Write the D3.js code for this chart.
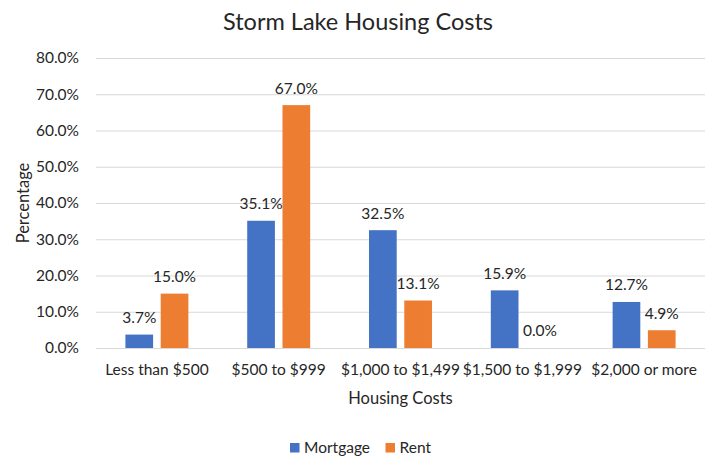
<!DOCTYPE html>
<html>
<head>
<meta charset="utf-8">
<script src="https://cdn.jsdelivr.net/npm/d3@7"></script>
<style>
  body { margin: 0; background: #fff; }
  text { font-family: Lato, "Open Sans", sans-serif; fill: #262626; }
</style>
</head>
<body>
<svg width="716" height="458"></svg>
<script>
var categories = ["Less than $500", "$500 to $999", "$1,000 to $1,499", "$1,500 to $1,999", "$2,000 or more"];
var seriesNames = ["Mortgage", "Rent"];
var mortgage = [3.7, 35.1, 32.5, 15.9, 12.7];
var rent = [15.0, 67.0, 13.1, 0.0, 4.9];
var yTicks = [0, 10, 20, 30, 40, 50, 60, 70, 80];
var colors = ["#4472C4", "#ED7D31"];

var svg = d3.select("svg"),
    width = +svg.attr("width"),
    height = +svg.attr("height");

var plotLeft = 96, plotRight = 705, plotTop = 58, plotBottom = 348;

var x = d3.scaleBand()
    .domain(categories)
    .range([plotLeft, plotRight])
    .paddingInner(0.483)
    .paddingOuter(0.2415);

var xs = d3.scaleBand()
    .domain(seriesNames)
    .range([0, x.bandwidth()])
    .paddingInner(0.215);

var y = d3.scaleLinear()
    .domain([0, 80])
    .range([plotBottom, plotTop]);

var color = d3.scaleOrdinal().domain(seriesNames).range(colors);

// gridlines + y labels
var yAxis = svg.append("g")
    .attr("transform", "translate(" + plotLeft + ",0)")
    .call(d3.axisLeft(y).tickValues(yTicks).tickSize(-(plotRight - plotLeft)).tickPadding(17)
      .tickFormat(function(d) { return d.toFixed(1) + "%"; }));
yAxis.select(".domain").remove();
yAxis.selectAll("line").attr("stroke", "#d9d9d9").attr("stroke-width", 1);
yAxis.selectAll("text").style("font-size", "15.5px").attr("fill", "#262626");

// x labels
var xAxis = svg.append("g")
    .attr("transform", "translate(0," + plotBottom + ")")
    .call(d3.axisBottom(x).tickSize(0).tickPadding(16));
xAxis.select(".domain").remove();
xAxis.selectAll("text").style("font-size", "15.5px").attr("fill", "#262626");

var rows = categories.map(function(c, i) {
  return { cat: c, values: [{ s: "Mortgage", v: mortgage[i] }, { s: "Rent", v: rent[i] }] };
});

var groups = svg.append("g").selectAll("g")
    .data(rows)
    .enter().append("g")
    .attr("transform", function(d) { return "translate(" + x(d.cat) + ",0)"; });

groups.selectAll("rect")
    .data(function(d) { return d.values; })
    .enter().append("rect")
    .attr("x", function(d) { return xs(d.s); })
    .attr("y", function(d) { return y(d.v); })
    .attr("width", xs.bandwidth())
    .attr("height", function(d) { return y(0) - y(d.v); })
    .attr("fill", function(d) { return color(d.s); });

groups.selectAll("text.val")
    .data(function(d) { return d.values; })
    .enter().append("text")
    .attr("class", "val")
    .attr("x", function(d) { return xs(d.s) + xs.bandwidth() / 2; })
    .attr("y", function(d) { return y(d.v) - 17; })
    .attr("dy", "0.35em")
    .attr("text-anchor", "middle")
    .style("font-size", "15.5px")
    .text(function(d) { return d.v.toFixed(1) + "%"; });

// titles
svg.append("text")
    .attr("x", 358).attr("y", 30)
    .attr("text-anchor", "middle")
    .style("font-size", "23.5px")
    .text("Storm Lake Housing Costs");

svg.append("text")
    .attr("x", (plotLeft + plotRight) / 2).attr("y", 398)
    .attr("dy", "0.35em")
    .attr("text-anchor", "middle")
    .style("font-size", "16.5px")
    .text("Housing Costs");

svg.append("text")
    .attr("transform", "translate(23," + (plotTop + plotBottom) / 2 + ") rotate(-90)")
    .attr("dy", "0.35em")
    .attr("text-anchor", "middle")
    .style("font-size", "16.5px")
    .text("Percentage");

// legend
var legend = svg.append("g").selectAll("g")
    .data(seriesNames)
    .enter().append("g")
    .attr("transform", function(d, i) { return "translate(" + [290, 385.5][i] + ",443)"; });

legend.append("rect")
    .attr("width", 9.5).attr("height", 9.5)
    .attr("fill", function(d) { return color(d); });

legend.append("text")
    .attr("x", 14).attr("y", 5)
    .attr("dy", "0.35em")
    .style("font-size", "15.5px")
    .text(function(d) { return d; });
</script>
</body>
</html>
